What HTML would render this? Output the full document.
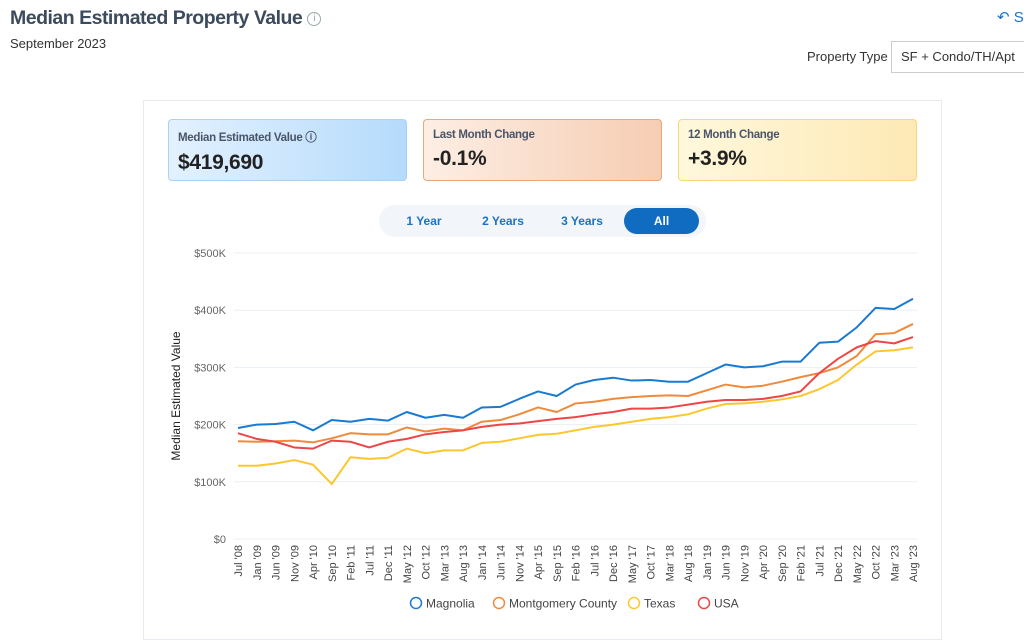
<!DOCTYPE html>
<html><head><meta charset="utf-8"><style>
*{box-sizing:border-box;margin:0;padding:0}
body{width:1024px;height:620px;overflow:hidden;background:#fff;font-family:"Liberation Sans",sans-serif;position:relative;color:#2d3b4e}
.abs{position:absolute}
.kpi{position:absolute;top:119px;height:62px;width:239px;border-radius:4px;padding:9px 9px}
.kpi .l{font-size:11.5px;font-weight:bold;color:#4a5568;letter-spacing:-0.3px}
.kpi .v{font-size:21px;font-weight:bold;color:#222;margin-top:6px;letter-spacing:-0.3px}
.tab{position:absolute;top:208px;height:26px;line-height:26px;font-size:12px;font-weight:bold;color:#1a73c8;text-align:center}
</style></head><body>
<div class="abs" style="left:10px;top:7px;font-size:19.5px;font-weight:bold;color:#3b4a5c;letter-spacing:-0.5px;white-space:nowrap">Median Estimated Property Value <span style="display:inline-block;width:14px;height:14px;border:1px solid #9aa;border-radius:50%;font-size:10px;text-align:center;line-height:12px;color:#9aa;vertical-align:middle;font-weight:normal">i</span></div>
<div class="abs" style="left:10px;top:36px;font-size:13px;color:#333">September 2023</div>
<div class="abs" style="left:997px;top:8px;font-size:15px;color:#1a73c8;white-space:nowrap">↶ S</div>
<div class="abs" style="left:807px;top:49px;font-size:13px;color:#333">Property Type</div>
<div class="abs" style="left:891px;top:41px;width:140px;height:32px;border:1px solid #ccc;font-size:13px;line-height:30px;padding-left:9px;color:#333;white-space:nowrap">SF + Condo/TH/Apt</div>
<div class="abs" style="left:143px;top:100px;width:799px;height:540px;border:1px solid #e8ecf0"></div>
<div class="kpi" style="left:168px;background:linear-gradient(90deg,#e3f1ff,#b5dbfb);border:1px solid #a9d2f5"><div class="l">Median Estimated Value ⓘ</div><div class="v">$419,690</div></div>
<div class="kpi" style="left:423px;background:linear-gradient(90deg,#fdeee4,#f6cdb3);border:1px solid #eca67c"><div class="l">Last Month Change</div><div class="v">-0.1%</div></div>
<div class="kpi" style="left:678px;background:linear-gradient(90deg,#fff8dc,#fde9b4);border:1px solid #f7d77a"><div class="l">12 Month Change</div><div class="v">+3.9%</div></div>
<div class="abs" style="left:379px;top:205px;width:327px;height:32px;border-radius:16px;background:#f2f5f9"></div>
<div class="tab" style="left:395px;width:58px">1 Year</div>
<div class="tab" style="left:473px;width:60px">2 Years</div>
<div class="tab" style="left:552px;width:60px">3 Years</div>
<div class="tab" style="left:624px;width:75px;background:#0f6cc0;color:#fff;border-radius:13px">All</div>
<svg id="chart" class="abs" style="left:0;top:0" width="1024" height="620"></svg>
<script>
const xLabels=["Jul '08","Jan '09","Jun '09","Nov '09","Apr '10","Sep '10","Feb '11","Jul '11","Dec '11","May '12","Oct '12","Mar '13","Aug '13","Jan '14","Jun '14","Nov '14","Apr '15","Sep '15","Feb '16","Jul '16","Dec '16","May '17","Oct '17","Mar '18","Aug '18","Jan '19","Jun '19","Nov '19","Apr '20","Sep '20","Feb '21","Jul '21","Dec '21","May '22","Oct '22","Mar '23","Aug '23"];
const yTicks=[0,100,200,300,400,500];
const seriesNames=["Magnolia","Montgomery County","Texas","USA"];
const magnolia=[194,200,201,205,190,208,205,210,207,222,212,217,212,230,231,245,258,250,270,278,282,277,278,275,275,290,305,300,302,310,310,343,345,370,404,402,420];
const montgomery=[171,170,171,172,169,176,185,183,183,195,188,193,190,205,208,218,230,222,237,240,245,248,250,251,250,260,270,265,268,275,283,290,300,320,358,360,376];
const texas=[128,128,132,138,130,96,143,140,142,158,150,155,155,168,170,176,182,184,190,196,200,205,210,213,218,228,236,237,240,244,250,262,278,305,328,330,335];
const usa=[185,175,170,160,158,172,170,160,170,175,183,187,190,196,200,202,206,210,213,218,222,228,228,230,235,240,243,243,245,250,258,290,315,335,346,342,353];
const colors=["#1a7ad0","#ef8a3c","#fcc72e","#ec4646"];
const svg=document.getElementById('chart');const NS='http://www.w3.org/2000/svg';
const x0=238,x1=913,yB=539,yT=253;
const xs=i=>x0+(x1-x0)*i/(xLabels.length-1);
const ys=v=>yB-(yB-yT)*v/500;
function mk(t,a){const e=document.createElementNS(NS,t);for(const k in a)e.setAttribute(k,a[k]);svg.appendChild(e);return e;}
yTicks.forEach(v=>{
 const g=mk('line',{x1:x0-4,x2:x1+4,y1:ys(v),y2:ys(v),stroke:'#eceff2','stroke-width':1});
 
 
 const t=mk('text',{x:226,y:ys(v)+4,'text-anchor':'end','font-size':11,fill:'#666','font-family':'Liberation Sans'});t.textContent='$'+(v?v+'K':'0');
 
 
});
xLabels.forEach((l,i)=>{
 const t=mk('text',{transform:`translate(${xs(i)+4},545) rotate(-90)`,'text-anchor':'end','font-size':11,fill:'#444','font-family':'Liberation Sans'});t.textContent=l;
 
 
});
const yt=mk('text',{transform:'translate(180,396) rotate(-90)','text-anchor':'middle','font-size':12,fill:'#222','font-family':'Liberation Sans'});yt.textContent='Median Estimated Value';


[magnolia,montgomery,texas,usa].forEach((d,s)=>{
 const p=mk('polyline',{points:d.map((v,i)=>xs(i)+','+ys(v)).join(' '),fill:'none',stroke:colors[s],'stroke-width':2,'stroke-linejoin':'round'});
 
 
});
const lx=[410,493,628,698];
seriesNames.forEach((n,s)=>{
 const c=mk('circle',{cx:lx[s]+6,cy:603,r:5.5,fill:'none',stroke:colors[s],'stroke-width':1.5});
 
 
 const t=mk('text',{x:lx[s]+16,y:607.5,'font-size':12,fill:'#444','font-family':'Liberation Sans'});t.textContent=n;
 
 
});
</script>
</body></html>
